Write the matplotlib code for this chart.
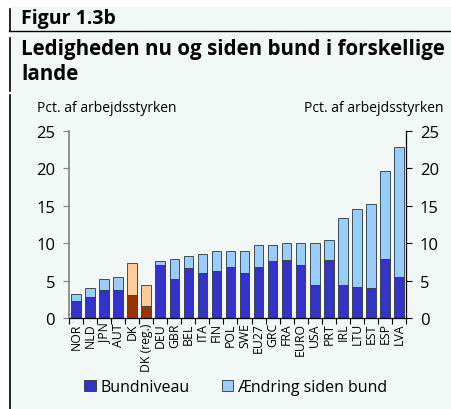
import numpy as np
import matplotlib.pyplot as plt
from matplotlib.patches import Rectangle, Patch
from matplotlib.lines import Line2D

# --- DATA ---
countries = ['NOR', 'NLD', 'JPN', 'AUT', 'DK', 'DK (reg.)', 'DEU', 'GBR', 'BEL',
             'ITA', 'FIN', 'POL', 'SWE', 'EU27', 'GRC', 'FRA', 'EURO', 'USA',
             'PRT', 'IRL', 'LTU', 'EST', 'ESP', 'LVA']
bund = [2.3, 2.75, 3.75, 3.7, 3.1, 1.6, 7.05, 5.2, 6.7, 6.0, 6.25, 6.8, 6.05,
        6.8, 7.6, 7.7, 7.15, 4.45, 7.7, 4.4, 4.1, 4.0, 7.9, 5.45]
total = [3.2, 4.0, 5.2, 5.45, 7.4, 4.4, 7.6, 7.85, 8.3, 8.6, 8.9, 9.0, 9.0,
         9.7, 9.8, 10.0, 10.0, 10.0, 10.45, 13.4, 14.6, 15.3, 19.6, 22.9]
dk_names = ['DK', 'DK (reg.)']

DARK = '#3333cc'
LIGHT = '#99ccff'
DK_DARK = '#993300'
DK_LIGHT = '#ffcc99'
BG = '#f1f8f6'

plt.rcParams['font.family'] = ['Open Sans', 'DejaVu Sans']

fig = plt.figure(figsize=(4.51, 4.10), dpi=100)
fig.patch.set_facecolor('white')

# panel background + frame lines (pixel coords -> figure fractions)
W, H = 451, 410
fig.patches.append(Rectangle((10 / W, 0), 1, 1 - 8 / H, transform=fig.transFigure,
                             facecolor=BG, edgecolor='none', zorder=-10))
fig.lines.append(Line2D([9 / W, 1], [1 - 32 / H, 1 - 32 / H], transform=fig.transFigure,
                        color='black', lw=1.0))
for y0, y1 in [(10, 32), (39, 92), (96, 410)]:
    fig.lines.append(Line2D([9.5 / W, 9.5 / W], [1 - y0 / H, 1 - y1 / H],
                            transform=fig.transFigure, color='black', lw=1.2))

fig.text(21 / W, 1 - 19 / H, 'Figur 1.3b', fontsize=14, fontweight='bold',
         va='center', ha='left')
fig.text(21 / W, 1 - 50 / H, 'Ledigheden nu og siden bund i forskellige',
         fontsize=14.8, fontweight='bold', va='center', ha='left')
fig.text(21 / W, 1 - 75 / H, 'lande',
         fontsize=14.8, fontweight='bold', va='center', ha='left')

ax = fig.add_axes([69 / W, 91 / H, 337 / W, 187 / H])
ax.set_facecolor('none')

x = np.arange(len(countries))
change = [t - b for t, b in zip(total, bund)]
dark_cols = [DK_DARK if c in dk_names else DARK for c in countries]
light_cols = [DK_LIGHT if c in dk_names else LIGHT for c in countries]

ax.bar(x, bund, width=0.68, color=dark_cols, edgecolor='#333333', linewidth=0.6)
ax.bar(x, change, bottom=bund, width=0.68, color=light_cols, edgecolor='#333333',
       linewidth=0.6)

ax.set_xlim(-0.5, len(countries) - 0.5)
ax.set_ylim(0, 25)
ax.set_yticks([0, 5, 10, 15, 20, 25])
ax.tick_params(axis='y', labelsize=12, length=4, width=0.8, color='#808080', pad=6)

ax.set_xticks(x)
ax.set_xticklabels(countries, rotation=90, fontsize=8.8)
ax.tick_params(axis='x', length=0, pad=3)
ax.set_xticks(np.arange(-0.5, len(countries), 1), minor=True)
ax.tick_params(axis='x', which='minor', length=4, width=0.8, color='black')

for s in ['top', 'right']:
    ax.spines[s].set_visible(False)
ax.spines['left'].set_color('#808080')
ax.spines['left'].set_linewidth(1.2)
ax.spines['bottom'].set_linewidth(0.9)

ax2 = ax.twinx()
ax2.set_ylim(0, 25)
ax2.set_yticks([0, 5, 10, 15, 20, 25])
ax2.tick_params(axis='y', labelsize=12, length=4, width=0.8, pad=6)
for s in ['top', 'left', 'bottom']:
    ax2.spines[s].set_visible(False)
ax2.spines['right'].set_linewidth(0.9)

fig.text(37 / W, 1 - 108 / H, 'Pct. af arbejdsstyrken', fontsize=10, va='center', ha='left')
fig.text(444 / W, 1 - 108 / H, 'Pct. af arbejdsstyrken', fontsize=10, va='center', ha='right')

handles = [Patch(facecolor=DARK, edgecolor='#333333', linewidth=0.6, label='Bundniveau'),
           Patch(facecolor=LIGHT, edgecolor='#333333', linewidth=0.6, label='Ændring siden bund')]
fig.legend(handles=handles, loc='center', bbox_to_anchor=(236 / W, 1 - 388 / H), ncol=2,
           frameon=False, fontsize=11.5, handlelength=0.7, handleheight=0.7,
           handletextpad=0.3, columnspacing=2.0, borderpad=0)

fig.savefig('out.png', dpi=100)
